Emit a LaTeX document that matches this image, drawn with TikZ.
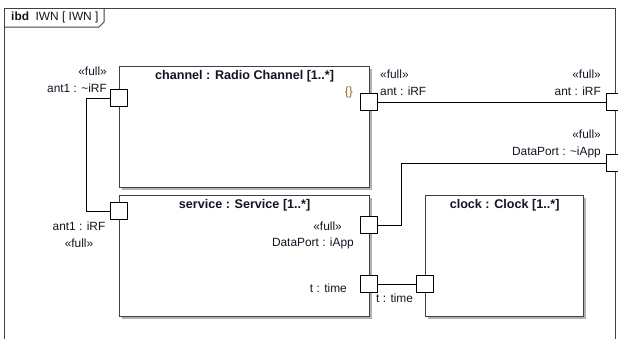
\documentclass[tikz,border=0pt]{standalone}
\usepackage{fontspec}
\setmainfont{Liberation Sans}
\usetikzlibrary{positioning,shadows}

\definecolor{lineGray}{RGB}{64,64,64}
\definecolor{txtDark}{RGB}{20,20,35}
\definecolor{braceGold}{RGB}{140,105,30}

\tikzset{
  part/.style={draw=lineGray, fill=white, line width=1.2pt, anchor=north west, inner sep=0pt,
    drop shadow={shadow xshift=2pt, shadow yshift=-2pt, fill=black!30, opacity=1}},
  port/.style={draw=black, fill=white, line width=0.9pt, minimum size=17pt, inner sep=0pt},
  ttl/.style={font=\fontsize{12.6}{14}\selectfont\bfseries, text=txtDark, inner sep=0pt},
  lbl/.style={font=\fontsize{11.9}{17}\selectfont, text=txtDark, inner sep=0pt},
  wire/.style={draw=black, line width=0.9pt}
}

\begin{document}
\begin{tikzpicture}[x=1pt, y=-1pt]
  \useasboundingbox (0,0) rectangle (618,338);

  % the diagram frame with its ibd header tab
  \draw[lineGray, line width=1pt] (4,340) -- (4,8) -- (615,8) -- (615,340);
  \draw[lineGray, line width=1pt] (4,27) -- (99,27) -- (104,22) -- (104,8);
  \node[lbl, anchor=west] (hdr) at (11,17.5) {{\bfseries ibd}\ \ IWN [ IWN ]};

  % the three parts, each a box with its title on top
  \node[part, minimum width=250pt, minimum height=121pt] (channel) at (119,66) {};
  \node[part, minimum width=250pt, minimum height=121pt] (service) at (119,195) {};
  \node[part, minimum width=158pt, minimum height=121pt] (clock) at (425,195) {};
  \node[ttl, below=4.5pt of channel.north] (channelTtl) {channel : Radio Channel [1..*]};
  \node[ttl, below=4.5pt of service.north] (serviceTtl) {service : Service [1..*]};
  \node[ttl, below=4.5pt of clock.north] (clockTtl) {clock : Clock [1..*]};

  % ports on the parts and on the frame
  \node[port] (chAnt1) at (119,98) {};
  \node[port] (chAnt) at (369,102) {};
  \node[port] (svAnt1) at (119,211) {};
  \node[port] (svData) at (369,225) {};
  \node[port] (svTime) at (369,284) {};
  \node[port] (clTime) at (425,284) {};
  \node[port] (frAnt) at (615,102) {};
  \node[port] (frData) at (615,163) {};

  % port labels
  \node[lbl, align=right, anchor=east] (chAnt1Lbl) at (107,79.5) {«full»\\ant1 : \textasciitilde iRF};
  \node[lbl, text=braceGold, anchor=east] (chBrace) at (353,92) {\{\}};
  \node[lbl, align=left, anchor=west] (chAntLbl) at (380,82.5) {«full»\\ant : iRF};
  \node[lbl, align=right, anchor=east] (frAntLbl) at (601,83) {«full»\\ant : iRF};
  \node[lbl, align=right, anchor=east] (frDataLbl) at (601,143.5) {«full»\\DataPort : \textasciitilde iApp};
  \node[lbl, align=center] (svAnt1Lbl) at (79,235) {ant1 : iRF\\«full»};
  \node[lbl, anchor=east] (svFullLbl) at (342,226) {«full»};
  \node[lbl, anchor=east] (svDataLbl) at (354,243) {DataPort : iApp};
  \node[lbl, anchor=east] (svTimeLbl) at (347,288) {t : time};
  \node[lbl, anchor=west] (clTimeLbl) at (376,298) {t : time};

  % connectors between the ports
  \draw[wire] (chAnt1.west) -- ++(-24,0) |- (svAnt1.west);
  \draw[wire] (chAnt.east) -- (frAnt.west);
  \draw[wire] (svData.east) -- ++(23.5,0) |- (frData.west);
  \draw[wire] (svTime.east) -- (clTime.west);
\end{tikzpicture}
\end{document}
